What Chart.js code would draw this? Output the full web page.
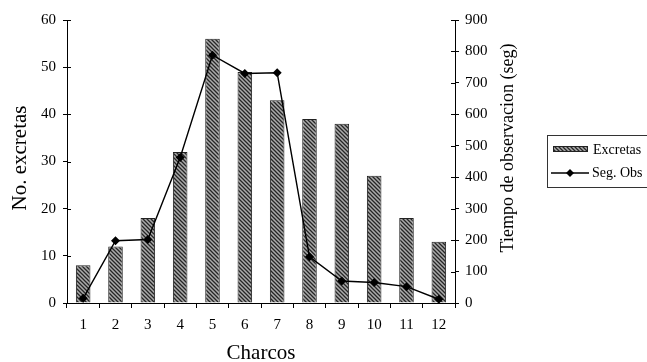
<!DOCTYPE html>
<html><head><meta charset="utf-8">
<script src="https://cdn.jsdelivr.net/npm/chart.js@4/dist/chart.umd.min.js"></script>
<style>html,body{margin:0;padding:0;background:#fff}#wrap{width:647px;height:362px}</style>
</head><body><div id="wrap"><canvas id="c" width="647" height="362"></canvas></div>
<script>
const categories = ['1','2','3','4','5','6','7','8','9','10','11','12'];
const excretas = [8,12,18,32,56,49,43,39,38,27,18,13];
const segObs = [15,198,202,463,788,730,732,147,70,65,52,12];
const leftTitle = 'No. excretas';
const rightTitle = 'Tiempo de observacion (seg)';
const xTitle = 'Charcos';
const seriesNames = ['Excretas','Seg. Obs'];

const FONT = '"Liberation Serif", "Times New Roman", serif';

const pc = document.createElement('canvas'); pc.width = 4; pc.height = 4;
const p = pc.getContext('2d');
p.fillStyle = '#ababab'; p.fillRect(0,0,4,4);
p.strokeStyle = '#262626'; p.lineWidth = 1.3;
p.beginPath();
p.moveTo(-1,-1); p.lineTo(5,5);
p.moveTo(-1,3); p.lineTo(1,5);
p.moveTo(3,-1); p.lineTo(5,1);
p.stroke();
const hatch = document.createElement('canvas').getContext('2d').createPattern(pc,'repeat');

const overlay = {
  id: 'overlay',
  afterDraw(chart) {
    const ctx = chart.ctx;
    const ca = chart.chartArea;
    const y = chart.scales.y, y1 = chart.scales.y1;
    ctx.save();
    ctx.strokeStyle = '#000'; ctx.lineWidth = 1;
    ctx.beginPath();
    y.ticks.forEach(t => { const py = Math.round(y.getPixelForValue(t.value)) + 0.5; ctx.moveTo(ca.left, py); ctx.lineTo(ca.left + 4, py); });
    y1.ticks.forEach(t => { const py = Math.round(y1.getPixelForValue(t.value)) + 0.5; ctx.moveTo(ca.right - 4, py); ctx.lineTo(ca.right, py); });
    ctx.stroke();

    ctx.fillStyle = '#000';
    ctx.textAlign = 'center'; ctx.textBaseline = 'middle';
    ctx.font = '21px ' + FONT;
    ctx.save(); ctx.translate(20, 158); ctx.rotate(-Math.PI/2); ctx.fillText(leftTitle, 0, 0); ctx.restore();
    ctx.fillText(xTitle, (ca.left + ca.right)/2, 353);
    ctx.font = '18px ' + FONT;
    ctx.save(); ctx.translate(508, 148); ctx.rotate(-Math.PI/2); ctx.fillText(rightTitle, 0, 0); ctx.restore();

    // legend
    ctx.strokeStyle = '#333'; ctx.lineWidth = 1;
    ctx.strokeRect(547.5, 135.5, 120, 52);
    ctx.fillStyle = hatch; ctx.fillRect(553, 146, 35, 6);
    ctx.strokeStyle = '#222'; ctx.strokeRect(553.5, 146.5, 34, 5);
    ctx.fillStyle = '#000'; ctx.font = '14px ' + FONT; ctx.textAlign = 'left';
    ctx.fillText(seriesNames[0], 593, 150);
    ctx.beginPath(); ctx.lineWidth = 1.4; ctx.strokeStyle = '#000';
    ctx.moveTo(551, 173); ctx.lineTo(589, 173); ctx.stroke();
    ctx.beginPath(); ctx.moveTo(570, 169); ctx.lineTo(574, 173); ctx.lineTo(570, 177); ctx.lineTo(566, 173); ctx.closePath(); ctx.fill();
    ctx.fillText(seriesNames[1], 592, 173);
    ctx.restore();
  }
};

new Chart(document.getElementById('c'), {
  data: {
    labels: categories,
    datasets: [
      { type: 'line', label: seriesNames[1], data: segObs, yAxisID: 'y1', order: 0,
        borderColor: '#000', borderWidth: 1.4, tension: 0,
        pointStyle: 'rectRot', pointRadius: 4.5, pointBackgroundColor: '#000', pointBorderColor: '#000', pointBorderWidth: 0 },
      { type: 'bar', label: seriesNames[0], data: excretas, yAxisID: 'y', order: 1,
        backgroundColor: hatch, borderColor: '#222', borderWidth: 1,
        barPercentage: 0.45, categoryPercentage: 1 }
    ]
  },
  options: {
    responsive: false, animation: false, devicePixelRatio: 1,
    layout: { padding: { top: 20, right: 92, bottom: 0, left: 0 } },
    plugins: { legend: { display: false }, tooltip: { enabled: false } },
    scales: {
      x: { type: 'category', position: 'bottom', offset: true,
        grid: { display: true, drawOnChartArea: false, drawTicks: true, tickLength: 5, color: '#000', offset: true },
        border: { display: true, color: '#000', width: 1 },
        ticks: { color: '#000', font: { family: FONT, size: 15 }, padding: 8, maxRotation: 0 },
        afterFit: s => { s.height = 59; } },
      y: { position: 'left', min: 0, max: 60,
        grid: { display: true, drawOnChartArea: false, tickLength: 4, color: '#000' },
        border: { display: true, color: '#000', width: 1 },
        ticks: { stepSize: 10, color: '#000', font: { family: FONT, size: 15 }, padding: 7 },
        afterFit: s => { s.width = 67; } },
      y1: { position: 'right', min: 0, max: 900,
        grid: { display: true, drawOnChartArea: false, tickLength: 4, color: '#000' },
        border: { display: true, color: '#000', width: 1 },
        ticks: { stepSize: 100, color: '#000', font: { family: FONT, size: 15 }, padding: 6 },
        afterFit: s => { s.width = 100; } }
    }
  },
  plugins: [overlay]
});
</script></body></html>
